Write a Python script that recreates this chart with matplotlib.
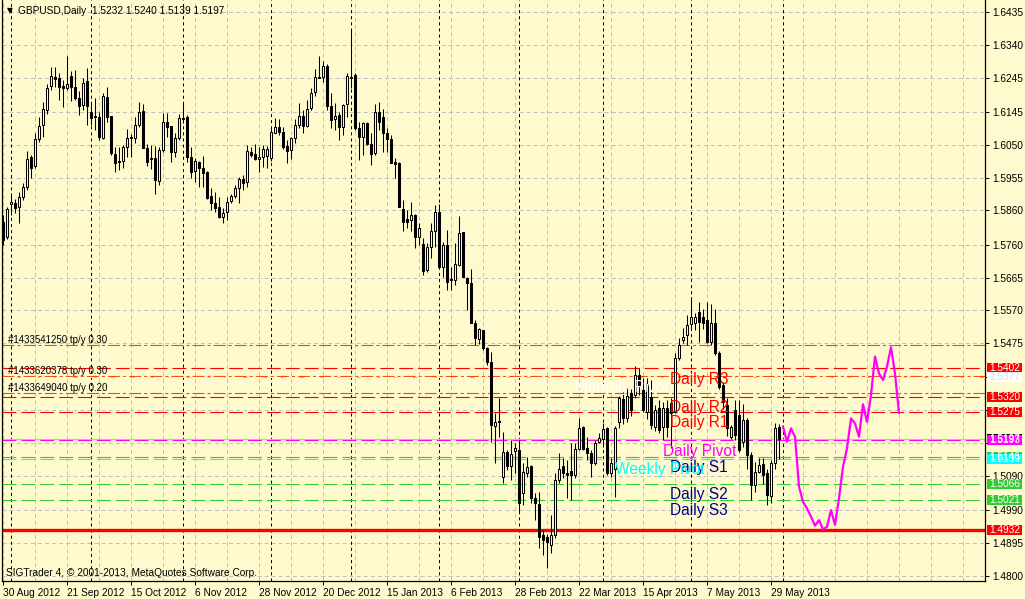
import numpy as np
import matplotlib
matplotlib.use("Agg")
import matplotlib.pyplot as plt
from matplotlib.patches import Rectangle
from matplotlib.transforms import blended_transform_factory

plt.rcParams['font.family'] = ['Liberation Sans', 'DejaVu Sans']
plt.rcParams['lines.scale_dashes'] = False

# GBPUSD daily candles
opens = [1.5826, 1.5783, 1.5878, 1.5881, 1.5870, 1.5899, 1.5928, 1.6015, 1.5989, 1.6067,
         1.6108, 1.6151, 1.6221, 1.6247, 1.6244, 1.6221, 1.6215, 1.6250, 1.6218, 1.6186,
         1.6165, 1.6235, 1.6145, 1.6131, 1.6131, 1.6070, 1.6189, 1.6134, 1.6023, 1.6003,
         1.6003, 1.6044, 1.6070, 1.6070, 1.6108, 1.6148, 1.6041, 1.6012, 1.6012, 1.5945,
         1.6035, 1.6116, 1.6105, 1.6029, 1.6070, 1.6125, 1.6131, 1.6015, 1.5974, 1.6000,
         1.5983, 1.5971, 1.5902, 1.5881, 1.5870, 1.5841, 1.5855, 1.5887, 1.5902, 1.5925,
         1.5951, 1.5942, 1.6029, 1.6023, 1.6009, 1.6015, 1.6018, 1.6012, 1.6084, 1.6102,
         1.6087, 1.6047, 1.6035, 1.6070, 1.6108, 1.6134, 1.6105, 1.6157, 1.6203, 1.6247,
         1.6247, 1.6279, 1.6163, 1.6125, 1.6137, 1.6102, 1.6168, 1.6244, 1.6252, 1.6099,
         1.6073, 1.6113, 1.6052, 1.6026, 1.6145, 1.6131, 1.6084, 1.6067, 1.5999, 1.5997,
         1.5864, 1.5835, 1.5832, 1.5847, 1.5783, 1.5762, 1.5687, 1.5754, 1.5800, 1.5855,
         1.5696, 1.5760, 1.5661, 1.5658, 1.5702, 1.5797, 1.5664, 1.5649, 1.5533, 1.5487,
         1.5513, 1.5461, 1.5420, 1.5235, 1.5249, 1.5087, 1.5159, 1.5119, 1.5162, 1.5165,
         1.5040, 1.5098, 1.5119, 1.5026, 1.5008, 1.4918, 1.4913, 1.4890, 1.4919, 1.5078,
         1.5119, 1.5098, 1.5104, 1.5093, 1.5168, 1.5232, 1.5171, 1.5156, 1.5127, 1.5188,
         1.5197, 1.5229, 1.5098, 1.5110, 1.5246, 1.5313, 1.5258, 1.5330, 1.5325, 1.5383,
         1.5339, 1.5275, 1.5319, 1.5232, 1.5287, 1.5232, 1.5287, 1.5301, 1.5275, 1.5432,
         1.5484, 1.5499, 1.5530, 1.5533, 1.5565, 1.5551, 1.5542, 1.5478, 1.5533, 1.5446,
         1.5354, 1.5296, 1.5203, 1.5281, 1.5267, 1.5188, 1.5252, 1.5150, 1.5063, 1.5101,
         1.5126, 1.5098, 1.5032, 1.5127, 1.5232]
highs = [1.5847, 1.5870, 1.5907, 1.5893, 1.5913, 1.5939, 1.6032, 1.6021, 1.6084, 1.6131,
         1.6174, 1.6226, 1.6276, 1.6276, 1.6258, 1.6238, 1.6308, 1.6264, 1.6267, 1.6206,
         1.6244, 1.6273, 1.6171, 1.6186, 1.6145, 1.6200, 1.6218, 1.6134, 1.6044, 1.6044,
         1.6050, 1.6096, 1.6082, 1.6131, 1.6174, 1.6168, 1.6052, 1.6050, 1.6047, 1.6044,
         1.6142, 1.6142, 1.6105, 1.6084, 1.6139, 1.6174, 1.6137, 1.6044, 1.6012, 1.6003,
         1.6018, 1.5974, 1.5925, 1.5913, 1.5899, 1.5867, 1.5899, 1.5907, 1.5934, 1.5957,
         1.5963, 1.6050, 1.6044, 1.6052, 1.6044, 1.6050, 1.6047, 1.6099, 1.6128, 1.6125,
         1.6102, 1.6064, 1.6073, 1.6125, 1.6171, 1.6151, 1.6180, 1.6215, 1.6270, 1.6308,
         1.6293, 1.6285, 1.6200, 1.6171, 1.6145, 1.6168, 1.6258, 1.6383, 1.6258, 1.6116,
         1.6116, 1.6116, 1.6084, 1.6168, 1.6174, 1.6154, 1.6099, 1.6079, 1.6012, 1.6000,
         1.5890, 1.5861, 1.5884, 1.5850, 1.5823, 1.5780, 1.5765, 1.5823, 1.5875, 1.5878,
         1.5768, 1.5803, 1.5696, 1.5765, 1.5844, 1.5797, 1.5667, 1.5690, 1.5542, 1.5519,
         1.5513, 1.5464, 1.5449, 1.5273, 1.5316, 1.5217, 1.5165, 1.5194, 1.5185, 1.5194,
         1.5127, 1.5145, 1.5122, 1.5040, 1.5043, 1.4933, 1.4922, 1.4977, 1.5098, 1.5156,
         1.5142, 1.5136, 1.5185, 1.5185, 1.5258, 1.5235, 1.5203, 1.5165, 1.5194, 1.5214,
         1.5243, 1.5232, 1.5142, 1.5235, 1.5322, 1.5333, 1.5348, 1.5342, 1.5409, 1.5403,
         1.5374, 1.5374, 1.5368, 1.5296, 1.5310, 1.5304, 1.5310, 1.5316, 1.5446, 1.5490,
         1.5519, 1.5557, 1.5609, 1.5563, 1.5594, 1.5574, 1.5594, 1.5588, 1.5574, 1.5452,
         1.5362, 1.5316, 1.5238, 1.5310, 1.5310, 1.5298, 1.5258, 1.5159, 1.5130, 1.5142,
         1.5142, 1.5110, 1.5136, 1.5243, 1.5240]
lows = [1.5760, 1.5777, 1.5847, 1.5852, 1.5823, 1.5890, 1.5919, 1.5954, 1.5983, 1.6058,
        1.6073, 1.6139, 1.6209, 1.6218, 1.6180, 1.6160, 1.6209, 1.6177, 1.6180, 1.6137,
        1.6151, 1.6108, 1.6108, 1.6093, 1.6064, 1.6067, 1.6116, 1.6021, 1.5971, 1.5977,
        1.5983, 1.6015, 1.6015, 1.6055, 1.6102, 1.6041, 1.5989, 1.5980, 1.5907, 1.5934,
        1.6029, 1.6073, 1.6000, 1.6015, 1.6064, 1.6113, 1.6000, 1.5954, 1.5942, 1.5928,
        1.5928, 1.5893, 1.5861, 1.5855, 1.5838, 1.5823, 1.5832, 1.5881, 1.5896, 1.5881,
        1.5919, 1.5928, 1.6015, 1.6006, 1.5971, 1.5986, 1.5983, 1.6003, 1.6084, 1.6079,
        1.6038, 1.5997, 1.6009, 1.6055, 1.6099, 1.6084, 1.6102, 1.6151, 1.6192, 1.6244,
        1.6232, 1.6151, 1.6099, 1.6093, 1.6064, 1.6079, 1.6131, 1.6215, 1.6093, 1.6006,
        1.6021, 1.6050, 1.5991, 1.6021, 1.6093, 1.6029, 1.6029, 1.5997, 1.5954, 1.5870,
        1.5800, 1.5809, 1.5800, 1.5751, 1.5760, 1.5673, 1.5681, 1.5722, 1.5754, 1.5693,
        1.5667, 1.5629, 1.5629, 1.5644, 1.5699, 1.5667, 1.5571, 1.5533, 1.5470, 1.5472,
        1.5455, 1.5412, 1.5188, 1.5127, 1.5203, 1.5069, 1.5107, 1.5078, 1.5098, 1.4982,
        1.5005, 1.5087, 1.5011, 1.4962, 1.4881, 1.4861, 1.4823, 1.4866, 1.4910, 1.5069,
        1.5084, 1.5026, 1.5020, 1.5084, 1.5165, 1.5165, 1.5136, 1.5087, 1.5121, 1.5185,
        1.5174, 1.5093, 1.5087, 1.5029, 1.5229, 1.5240, 1.5246, 1.5264, 1.5316, 1.5325,
        1.5275, 1.5255, 1.5226, 1.5220, 1.5215, 1.5194, 1.5203, 1.5171, 1.5272, 1.5426,
        1.5476, 1.5470, 1.5519, 1.5513, 1.5478, 1.5516, 1.5476, 1.5470, 1.5441, 1.5342,
        1.5284, 1.5205, 1.5197, 1.5194, 1.5159, 1.5174, 1.5110, 1.5020, 1.5043, 1.5098,
        1.5066, 1.5006, 1.5011, 1.5110, 1.5139]
closes = [1.5774, 1.5864, 1.5884, 1.5867, 1.5899, 1.5928, 1.6009, 1.5983, 1.6067, 1.6105,
          1.6154, 1.6215, 1.6250, 1.6241, 1.6218, 1.6215, 1.6226, 1.6218, 1.6186, 1.6163,
          1.6229, 1.6163, 1.6128, 1.6133, 1.6073, 1.6192, 1.6131, 1.6026, 1.5997, 1.6000,
          1.6044, 1.6070, 1.6073, 1.6108, 1.6145, 1.6041, 1.6000, 1.6009, 1.5948, 1.6035,
          1.6116, 1.6102, 1.6029, 1.6070, 1.6128, 1.6128, 1.6015, 1.5971, 1.6003, 1.5983,
          1.5968, 1.5896, 1.5881, 1.5867, 1.5841, 1.5852, 1.5884, 1.5902, 1.5925, 1.5951,
          1.5939, 1.6032, 1.6021, 1.6009, 1.6015, 1.6038, 1.6038, 1.6087, 1.6102, 1.6087,
          1.6044, 1.6032, 1.6070, 1.6108, 1.6134, 1.6105, 1.6154, 1.6200, 1.6247, 1.6244,
          1.6279, 1.6163, 1.6122, 1.6134, 1.6102, 1.6166, 1.6250, 1.6247, 1.6099, 1.6073,
          1.6113, 1.6052, 1.6023, 1.6145, 1.6116, 1.6084, 1.6067, 1.5997, 1.5995, 1.5870,
          1.5826, 1.5826, 1.5847, 1.5783, 1.5809, 1.5684, 1.5754, 1.5800, 1.5855, 1.5696,
          1.5760, 1.5652, 1.5658, 1.5704, 1.5794, 1.5667, 1.5649, 1.5533, 1.5490, 1.5516,
          1.5461, 1.5420, 1.5238, 1.5247, 1.5246, 1.5159, 1.5119, 1.5153, 1.5171, 1.5011,
          1.5101, 1.5116, 1.5026, 1.5011, 1.4913, 1.4904, 1.4898, 1.4919, 1.5078, 1.5110,
          1.5098, 1.5093, 1.5093, 1.5168, 1.5229, 1.5168, 1.5156, 1.5127, 1.5185, 1.5200,
          1.5226, 1.5098, 1.5127, 1.5229, 1.5316, 1.5258, 1.5322, 1.5281, 1.5383, 1.5354,
          1.5281, 1.5360, 1.5238, 1.5281, 1.5223, 1.5287, 1.5232, 1.5272, 1.5432, 1.5470,
          1.5493, 1.5528, 1.5551, 1.5551, 1.5536, 1.5533, 1.5478, 1.5533, 1.5446, 1.5348,
          1.5304, 1.5229, 1.5232, 1.5209, 1.5165, 1.5252, 1.5150, 1.5063, 1.5101, 1.5122,
          1.5093, 1.5034, 1.5127, 1.5229, 1.5197]

# projected path drawn after the last bar
forecast = [1.5233, 1.5189, 1.5228, 1.5204, 1.5059, 1.5015, 1.4996, 1.4972, 1.4946, 1.4962,
            1.4935, 1.4943, 1.4991, 1.4948, 1.5025, 1.5117, 1.5170, 1.5257, 1.5242, 1.5204,
            1.5298, 1.5247, 1.5325, 1.5436, 1.5387, 1.5368, 1.5407, 1.5463, 1.5387, 1.5273]

date_labels = ['30 Aug 2012', '21 Sep 2012', '15 Oct 2012', '6 Nov 2012', '28 Nov 2012',
               '20 Dec 2012', '15 Jan 2013', '6 Feb 2013', '28 Feb 2013', '22 Mar 2013',
               '15 Apr 2013', '7 May 2013', '29 May 2013']
month_starts = [2, 22, 45, 67, 87, 109, 129, 150, 172, 195]

price_labels = ['1.4800', '1.4895', '1.4990', '1.5090', '1.5185', '1.5280', '1.5377', '1.5475',
                '1.5570', '1.5665', '1.5760', '1.5860', '1.5955', '1.6050', '1.6145', '1.6245',
                '1.6340', '1.6435']
hidden_labels = ['1.5185', '1.5280', '1.5377']

daily_names = ['Daily R3', 'Daily R2', 'Daily R1', 'Daily Pivot', 'Daily S1', 'Daily S2', 'Daily S3']
daily_values = [1.5402, 1.5320, 1.5275, 1.5193, 1.5146, 1.5066, 1.5021]
weekly_pivot = 1.5139
monthly_pivot = 1.5377
tp_values = [1.5470, 1.5380, 1.5330]
tp_labels = ['#1433541250 tp/y 0.30', '#1433620378 tp/y 0.30', '#1433649040 tp/y 0.20']
hline_level = 1.4932

BG = '#FFFACD'
GRID = '#C0C0C0'
RED = '#FF0000'
TP = '#FF4500'
MAG = '#FF00FF'
CYAN = '#00FFFF'
GREEN = '#32CD32'
NAVY = '#00008B'

fig = plt.figure(figsize=(10.25, 5.99), dpi=100, facecolor=BG)
ax = fig.add_axes([2 / 1025, 18 / 599, 983 / 1025, 581 / 599])
ax.set_facecolor(BG)

n = len(opens)
x = np.arange(n)
o = np.array(opens)
c = np.array(closes)

ax.set_xlim(-0.25, 245.5)
ax.set_ylim(1.47855, 1.64698)

# grid
price_ticks = [float(s) for s in price_labels]
for p in price_ticks:
    ax.axhline(p, color=GRID, lw=0.72, dashes=(2.9, 2.2), zorder=1)
for gx in range(0, 246, 8):
    ax.axvline(gx, color=GRID, lw=0.72, dashes=(2.9, 2.2), zorder=1)
for m in month_starts:
    ax.axvline(m, color='black', lw=0.72, dashes=(2.2, 2.2), zorder=1.2)

# level lines
long_dash = (10.0, 3.6)
dash_dot = (8.6, 2.2, 2.2, 2.2)
for v in tp_values:
    ax.axhline(v, color=TP, lw=0.8, dashes=dash_dot, zorder=1.5)
ax.axhline(monthly_pivot, color='white', lw=0.8, dashes=long_dash, zorder=1.5)
ax.axhline(closes[-1], color=GRID, lw=0.8, zorder=1.5)
line_colors = [RED, RED, RED, MAG, GREEN, GREEN, GREEN]
for v, col in zip(daily_values, line_colors):
    ax.axhline(v, color=col, lw=0.8, dashes=long_dash, zorder=1.6)
ax.axhline(weekly_pivot, color=CYAN, lw=0.8, dashes=long_dash, zorder=1.6)
ax.axhline(hline_level, color=RED, lw=2.4, zorder=1.7)

# candles
ax.vlines(x, lows, highs, color='black', lw=0.75, zorder=3)
up = c >= o
ax.bar(x, np.abs(c - o), width=0.55, bottom=np.minimum(o, c),
       color=np.where(up, 'white', 'black'), edgecolor='black', linewidth=0.75, zorder=4)

# forecast line
ax.plot(np.arange(n, n + len(forecast)), forecast, color=MAG, lw=1.6, zorder=5)

# level labels
label_x = [166.8, 166.8, 166.8, 165.0, 166.8, 166.8, 166.8]
text_colors = [RED, RED, RED, MAG, NAVY, NAVY, NAVY]
for name, v, lx, col in zip(daily_names, daily_values, label_x, text_colors):
    ax.annotate(name, (lx, v), xytext=(0, -2.3), textcoords='offset points',
                color=col, fontsize=11.2, va='top', ha='left', zorder=6)
ax.annotate('Weekly Pivot', (153, weekly_pivot), xytext=(0, -2.3), textcoords='offset points',
            color=CYAN, fontsize=11.2, va='top', ha='left', zorder=6)
ax.annotate('Monthly Pivot', (143, monthly_pivot), xytext=(0, -2.3), textcoords='offset points',
            color='white', fontsize=11.2, va='top', ha='left', zorder=6)
for v, t in zip(tp_values, tp_labels):
    ax.text(1.2, v, t, color='black', fontsize=7, va='bottom', ha='left', zorder=6)

# axes styling
for side in ['left', 'right', 'bottom']:
    ax.spines[side].set_color('black')
    ax.spines[side].set_linewidth(0.9)
ax.spines['top'].set_visible(False)

ax.yaxis.tick_right()
ax.set_yticks(price_ticks)
ax.set_yticklabels(['' if s in hidden_labels else s for s in price_labels])
ax.tick_params(axis='y', direction='out', length=3, width=0.7, pad=2, labelsize=7.3, colors='black')

ax.set_xticks(np.arange(0, 16 * len(date_labels), 16))
ax.set_xticklabels(date_labels)
ax.tick_params(axis='x', direction='out', length=3, width=0.7, pad=2, labelsize=7.3)
for lbl in ax.get_xticklabels():
    lbl.set_ha('left')

# price boxes on the right scale
blend = blended_transform_factory(ax.transAxes, ax.transData)
boxes = [(1.5402, RED, 'white'), (1.5377, 'white', '#DDDDDD'), (1.5320, RED, 'white'),
         (1.5275, RED, 'white'), (1.5197, 'black', 'white'), (1.5193, MAG, 'white'),
         (1.5146, GREEN, 'white'), (1.5139, CYAN, 'white'), (1.5066, GREEN, 'white'),
         (1.5021, GREEN, 'white'), (1.4932, RED, 'white')]
box_h = 10 / 3449.5
for p, fc, tc in boxes:
    ax.add_patch(Rectangle((1.0021, p - box_h / 2), 0.0356, box_h, transform=blend,
                           facecolor=fc, edgecolor='none', clip_on=False, zorder=7))
    ax.text(1.0045, p, f'{p:.4f}', transform=blend, color=tc, fontsize=7.3,
            va='center', ha='left', clip_on=False, zorder=8)

# header and footer text
fig.text(7 / 1025, 1 - 11 / 599, '\u25bc', fontsize=5.5, va='center', ha='left',
         family=['DejaVu Sans'])
fig.text(18 / 1025, 1 - 11 / 599, 'GBPUSD,Daily  1.5232 1.5240 1.5139 1.5197',
         fontsize=7.3, va='center', ha='left')
fig.text(6 / 1025, 1 - 573 / 599, 'SIGTrader 4, \u00a9 2001-2013, MetaQuotes Software Corp.',
         fontsize=7.3, va='center', ha='left')

fig.savefig('out.png', dpi=100, facecolor=BG)
